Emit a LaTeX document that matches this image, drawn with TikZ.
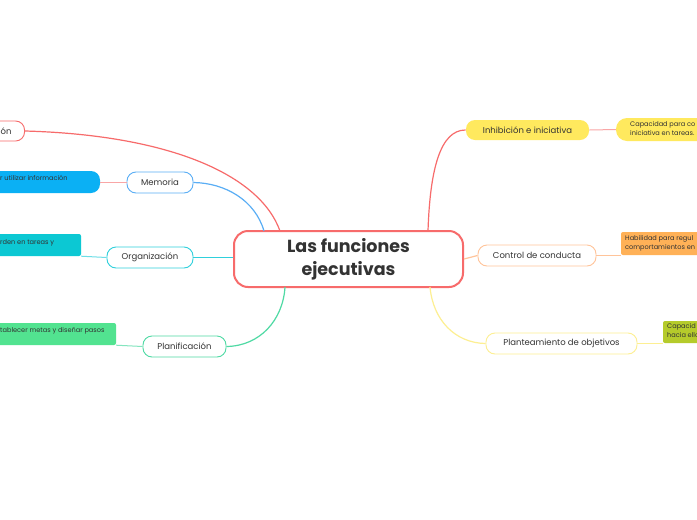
\documentclass[tikz,border=0pt]{standalone}
\usepackage{fontspec}
\setmainfont{Poppins}
\definecolor{txt}{HTML}{333333}
\definecolor{cred}{HTML}{F76B6B}
\definecolor{cblue}{HTML}{5AAEF5}
\definecolor{ccyan}{HTML}{2FD0DC}
\definecolor{cgreen}{HTML}{4FDAA4}
\definecolor{corange}{HTML}{FFC49A}
\definecolor{cyellow}{HTML}{FDEF92}
\definecolor{fblue}{HTML}{0BB0F4}
\definecolor{fcyan}{HTML}{0CC8D3}
\definecolor{fgreen}{HTML}{52E390}
\definecolor{fyellow}{HTML}{FFE95E}
\definecolor{forange}{HTML}{FFB157}
\definecolor{folive}{HTML}{B5CB2B}
\definecolor{pink}{HTML}{F9A6A6}
\tikzset{
  topic/.style={draw, fill=white, rounded corners=9pt, line width=0.9pt, minimum height=21pt, inner sep=0pt, font=\fontsize{8.5}{10}\selectfont, text=txt},
  sub/.style={rounded corners=2pt, inner sep=0pt, minimum height=22pt},
  subtxt/.style={font=\fontsize{6.6}{9}\selectfont, text=txt, inner sep=0pt, align=left},
  conn/.style={line width=1.2pt},
}
\begin{document}
\begin{tikzpicture}[x=1pt,y=-1pt]
\useasboundingbox (0,0) rectangle (697,520);
\fill[white] (0,0) rectangle (697,520);
\clip (0,0) rectangle (697,520);

% central
\node[draw=cred, line width=2pt, fill=white, rounded corners=14pt, minimum width=229pt, minimum height=56pt, inner sep=0pt, align=center, font=\bfseries\fontsize{17.5}{23}\selectfont, text=txt] (c) at (348.5,259) {Las funciones\\ejecutivas};

% left topics
\node[topic, draw=cred, anchor=east, inner xsep=13pt, minimum height=20pt] (aten) at (25,131) {ón};
\node[topic, draw=cblue, minimum width=66pt] (mem) at (160,182.5) {Memoria};
\node[topic, draw=ccyan, minimum width=86pt] (org) at (150,257.5) {Organización};
\node[topic, draw=cgreen, minimum width=83pt] (plan) at (184.5,346.5) {Planificación};

% right topics
\node[topic, draw=none, fill=fyellow, minimum width=123pt, minimum height=20pt] (inh) at (527.5,130) {Inhibición e iniciativa};
\node[topic, draw=corange, minimum width=118pt] (ctrl) at (537,255.5) {Control de conducta};
\node[topic, draw=cyellow, minimum width=151pt] (plant) at (561.5,343.5) {Planteamiento de objetivos};

% left sub-topics
\node[sub, fill=fblue, rounded corners=9pt, minimum width=150pt] (memc) at (25,182) {};
\node[subtxt, anchor=west] (memt) at (0,178) {r utilizar información};
\node[sub, fill=fcyan, minimum width=130pt] (orgc) at (16,245) {};
\node[subtxt, anchor=west] (orgt) at (0,243) {rden en tareas y};
\node[sub, fill=fgreen, minimum width=150pt] (planc) at (41,334) {};
\node[subtxt, anchor=west] (plant2) at (0,330.5) {tablecer metas y diseñar pasos};

% right sub-topics
\node[sub, fill=fyellow, rounded corners=11pt, minimum width=150pt, minimum height=23pt] (inhc) at (691,129.5) {};
\node[subtxt, anchor=north west] (inht) at (630,121) {Capacidad para co\\iniciativa en tareas.};
\node[sub, fill=forange, minimum width=150pt, minimum height=23pt] (ctrlc) at (696,243.5) {};
\node[subtxt, anchor=north west] (ctrlt) at (625,235) {Habilidad para regul\\comportamientos en};
\node[sub, fill=folive, minimum width=150pt] (plantc) at (738,332) {};
\node[subtxt, anchor=north west] (plantt) at (667,323.5) {Capacid\\hacia ello};

% connectors from center
\coordinate (cT1) at (280,231);
\coordinate (cT2) at (264,231);
\coordinate (cT3) at (428,231);
\coordinate (cB1) at (285,287);
\coordinate (cB2) at (430,287);
\draw[conn, cred] (aten.east) .. controls (170,135) and (260,175) .. (cT1);
\draw[conn, cblue] (mem.east) .. controls (225,183) and (255,200) .. (cT2);
\draw[conn, ccyan] (org.east) -- (c.west |- org.east);
\draw[conn, cgreen] (plan.east) .. controls (260,346) and (283,320) .. (cB1);
\draw[conn, cred] (cT3) .. controls (430,170) and (440,130) .. (inh.west);
\draw[conn, corange] (c.east) -- (ctrl.west);
\draw[conn, cyellow] (cB2) .. controls (433,320) and (455,343) .. (plant.west);

% connectors to sub-topics
\draw[line width=1pt, pink] (mem.west) -- (memc.east |- mem.west);
\draw[line width=1pt, ccyan!70] (org.west) -- (orgc.south east);
\draw[line width=1pt, cgreen!70] (plan.west) -- (planc.south east);
\draw[line width=1pt, pink] (inh.east) -- (inhc.west);
\draw[line width=1pt, corange] (ctrl.east) -- (ctrlc.west |- ctrl.east);
\draw[line width=1pt, cyellow] (plant.east) -- (plantc.west |- plant.east);
\end{tikzpicture}
\end{document}
